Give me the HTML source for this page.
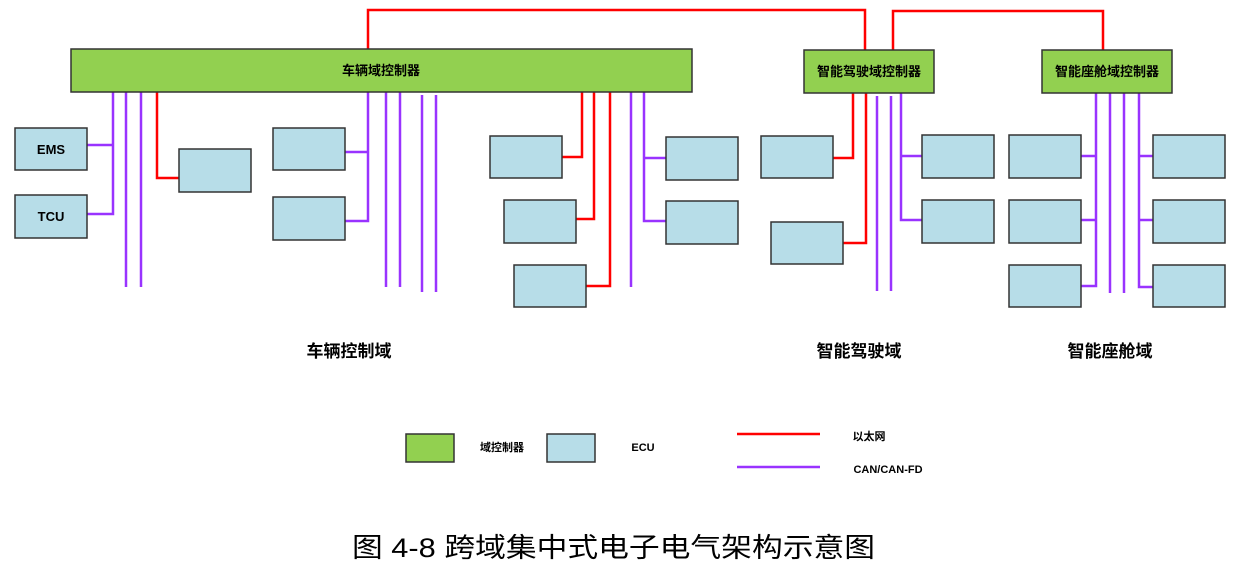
<!DOCTYPE html>
<html><head><meta charset="utf-8"><style>
html,body{margin:0;padding:0;background:#fff;}
svg{display:block;}
text{font-family:"Liberation Sans","Noto Sans CJK SC",sans-serif;}
</style></head><body>
<svg width="1239" height="573" viewBox="0 0 1239 573" xmlns="http://www.w3.org/2000/svg">
<g fill="none" stroke-width="2.5">
<!-- ethernet top -->
<polyline points="368,49 368,10 865,10 865,50" stroke="#ff0000"/>
<polyline points="893,50 893,11 1103,11 1103,50" stroke="#ff0000"/>
<!-- vehicle domain purple -->
<g stroke="#9933ff">
<polyline points="113,92 113,214 87,214"/>
<line x1="87" y1="145" x2="113" y2="145"/>
<line x1="126" y1="92" x2="126" y2="287"/>
<line x1="141" y1="92" x2="141" y2="287"/>
<polyline points="368,92 368,221 345,221"/>
<line x1="345" y1="152" x2="368" y2="152"/>
<line x1="386" y1="92" x2="386" y2="287"/>
<line x1="400" y1="92" x2="400" y2="287"/>
<line x1="422" y1="95" x2="422" y2="292"/>
<line x1="436" y1="95" x2="436" y2="292"/>
<line x1="631" y1="92" x2="631" y2="287"/>
<polyline points="644,92 644,221 666,221"/>
<line x1="644" y1="158" x2="666" y2="158"/>
<!-- driving -->
<line x1="877" y1="96" x2="877" y2="291"/>
<line x1="891" y1="96" x2="891" y2="291"/>
<polyline points="901,93 901,220 922,220"/>
<line x1="901" y1="156" x2="922" y2="156"/>
<!-- cockpit -->
<polyline points="1096,93 1096,286 1081,286"/>
<line x1="1081" y1="156" x2="1096" y2="156"/>
<line x1="1081" y1="220" x2="1096" y2="220"/>
<line x1="1110" y1="93" x2="1110" y2="293"/>
<line x1="1124" y1="93" x2="1124" y2="293"/>
<polyline points="1139,93 1139,287 1153,287"/>
<line x1="1139" y1="156" x2="1153" y2="156"/>
<line x1="1139" y1="220" x2="1153" y2="220"/>
</g>
<g stroke="#ff0000">
<polyline points="157,92 157,178 179,178"/>
<polyline points="582,92 582,157 562,157"/>
<polyline points="594,92 594,219 576,219"/>
<polyline points="610,92 610,286 586,286"/>
<polyline points="853,93 853,158 833,158"/>
<polyline points="866,93 866,243 843,243"/>
</g>
</g>
<!-- green controllers -->
<g fill="#92d050" stroke="#333" stroke-width="1.5">
<rect x="71" y="49" width="621" height="43"/>
<rect x="804" y="50" width="130" height="43"/>
<rect x="1042" y="50" width="130" height="43"/>
<rect x="406" y="434" width="48" height="28"/>
</g>
<!-- ECU boxes -->
<g fill="#b7dde8" stroke="#333" stroke-width="1.5">
<rect x="15" y="128" width="72" height="42"/>
<rect x="15" y="195" width="72" height="43"/>
<rect x="179" y="149" width="72" height="43"/>
<rect x="273" y="128" width="72" height="42"/>
<rect x="273" y="197" width="72" height="43"/>
<rect x="490" y="136" width="72" height="42"/>
<rect x="504" y="200" width="72" height="43"/>
<rect x="514" y="265" width="72" height="42"/>
<rect x="666" y="137" width="72" height="43"/>
<rect x="666" y="201" width="72" height="43"/>
<rect x="761" y="136" width="72" height="42"/>
<rect x="771" y="222" width="72" height="42"/>
<rect x="922" y="135" width="72" height="43"/>
<rect x="922" y="200" width="72" height="43"/>
<rect x="1009" y="135" width="72" height="43"/>
<rect x="1009" y="200" width="72" height="43"/>
<rect x="1009" y="265" width="72" height="42"/>
<rect x="1153" y="135" width="72" height="43"/>
<rect x="1153" y="200" width="72" height="43"/>
<rect x="1153" y="265" width="72" height="42"/>
<rect x="547" y="434" width="48" height="28"/>
</g>
<!-- legend lines -->
<line x1="737" y1="434" x2="820" y2="434" stroke="#ff0000" stroke-width="2.5"/>
<line x1="737" y1="467" x2="820" y2="467" stroke="#9933ff" stroke-width="2.5"/>
<!-- text -->
<g font-weight="bold" fill="#000">
<text x="381" y="75" font-size="13" text-anchor="middle">车辆域控制器</text>
<text x="869" y="76" font-size="13" text-anchor="middle">智能驾驶域控制器</text>
<text x="1107" y="76" font-size="13" text-anchor="middle">智能座舱域控制器</text>
<text x="51" y="154" font-size="13" text-anchor="middle" font-family="Liberation Serif,serif">EMS</text>
<text x="51" y="221" font-size="13" text-anchor="middle" font-family="Liberation Serif,serif">TCU</text>
<text x="349" y="357" font-size="17" text-anchor="middle">车辆控制域</text>
<text x="859" y="357" font-size="17" text-anchor="middle">智能驾驶域</text>
<text x="1110" y="357" font-size="17" text-anchor="middle">智能座舱域</text>
<text x="502" y="451" font-size="11" text-anchor="middle">域控制器</text>
<text x="643" y="451" font-size="11" text-anchor="middle" font-family="Liberation Serif,serif">ECU</text>
<text x="869" y="440" font-size="11" text-anchor="middle">以太网</text>
<text x="888" y="473" font-size="11" text-anchor="middle" font-family="Liberation Serif,serif">CAN/CAN-FD</text>
</g>
<text x="352" y="557" font-size="27" fill="#000" textLength="523" lengthAdjust="spacingAndGlyphs">图 4-8 跨域集中式电子电气架构示意图</text>
</svg>
</body></html>
